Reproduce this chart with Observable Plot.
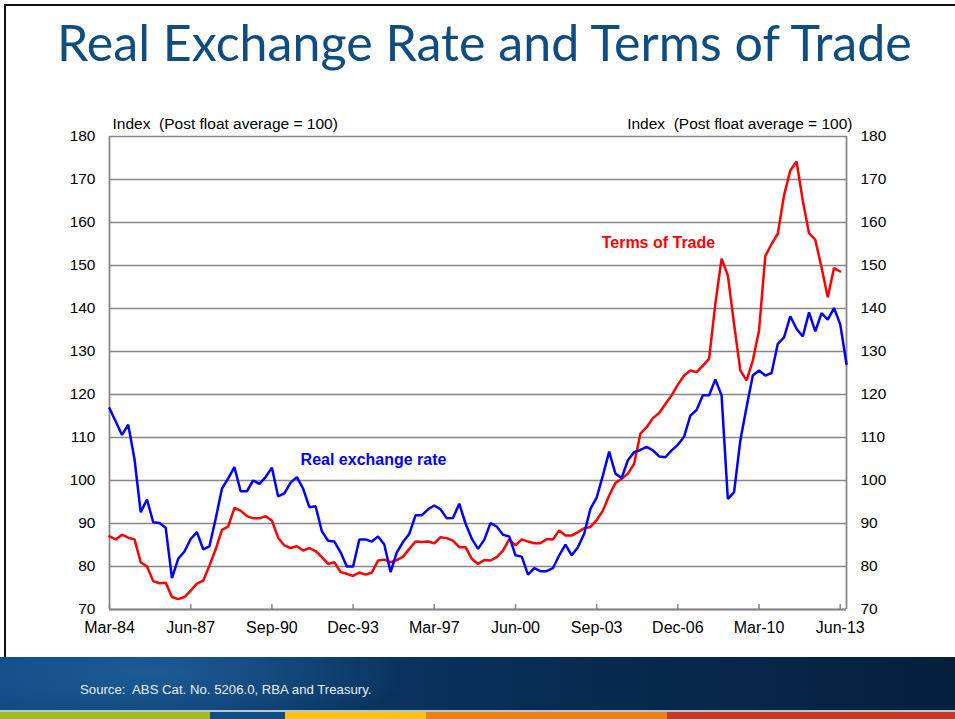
<!DOCTYPE html>
<html>
<head>
<meta charset="utf-8">
<script src="https://cdn.jsdelivr.net/npm/d3@7"></script>
<script src="https://cdn.jsdelivr.net/npm/@observablehq/plot@0.6"></script>
<style>
  html, body { margin: 0; padding: 0; background: #fff; }
  #slide { position: relative; width: 955px; height: 719px; overflow: hidden; background: #fff; }
  #border { position: absolute; left: 4px; top: 4px; width: 960px; height: 660px; border-left: 2px solid #111; border-top: 2px solid #111; }
  #titleSvg { position: absolute; left: 0; top: 0; }
  #chart { position: absolute; left: 0; top: 100px; }
  #band { position: absolute; left: 0; top: 657px; width: 955px; height: 53px;
    background:
      radial-gradient(ellipse 260px 70px at 150px 15px, rgba(45,115,180,0.55), rgba(45,115,180,0) 100%),
      linear-gradient(90deg, #0c467f 0%, #0a3866 30%, #082b52 60%, #06203e 100%); }
  #sep { position: absolute; left: 0; top: 710px; width: 955px; height: 2px; background: #b9c6d3; }
  #stripes { position: absolute; left: 0; top: 712px; width: 955px; height: 7px; display: flex; }
  #source { position: absolute; left: 80px; top: 682px; font-family: "Liberation Sans", Arial, sans-serif; font-size: 13.2px; color: #e6edf5; white-space: pre; }
</style>
</head>
<body>
<div id="slide">
  <div id="border"></div>
  <svg id="titleSvg" width="955" height="100"></svg>
  <div id="chart"></div>
  <div id="band"></div>
  <div id="sep"></div>
  <div id="stripes"></div>
  <div id="source"></div>
</div>
<script>
// ---------- data ----------
const titleText = "Real Exchange Rate and Terms of Trade";
const sourceText = "Source:  ABS Cat. No. 5206.0, RBA and Treasury.";
const axisTitle = "Index\u00a0 (Post float average = 100)";

// quarterly, Mar-84 onwards
const realExchangeRate = [116.8,113.7,110.6,113.0,105.0,92.6,95.6,90.3,90.1,89.0,
  77.3,81.8,83.5,86.4,88.0,84.0,84.7,91.1,98.1,100.5,
  103.1,97.5,97.5,100.0,99.2,100.8,103.0,96.3,97.0,99.5,
  100.8,98.1,93.8,94.0,88.2,86.0,85.8,83.3,80.0,80.0,
  86.3,86.3,85.8,87.0,85.1,78.7,83.3,85.7,87.6,91.9,
  91.9,93.3,94.2,93.3,91.2,91.3,94.6,90.0,86.5,84.1,
  86.2,90.1,89.3,87.4,87.0,82.6,82.3,78.1,79.6,78.9,
  78.9,79.6,82.6,85.1,82.6,84.5,87.6,93.4,96.0,101.2,
  106.7,101.6,100.6,104.7,106.6,107.1,107.8,107.0,105.6,105.4,
  107.0,108.3,110.2,115.1,116.4,119.8,119.8,123.5,119.8,95.7,
  97.3,109.3,117.1,124.4,125.6,124.4,125.0,131.8,133.3,138.2,
  135.3,133.5,139.1,134.7,138.9,137.4,140.1,136.3,127.1];

const termsOfTrade = [87.0,86.3,87.4,86.7,86.3,81.0,80.0,76.6,76.1,76.2,
  72.9,72.4,72.9,74.4,76.0,76.7,80.2,84.0,88.5,89.3,
  93.6,93.0,91.7,91.2,91.2,91.7,90.7,86.7,84.9,84.3,
  84.7,83.7,84.3,83.6,82.2,80.6,81.0,78.7,78.3,77.8,
  78.6,78.1,78.6,81.4,81.6,81.0,81.5,82.3,84.1,85.8,
  85.7,85.8,85.4,86.8,86.6,86.0,84.5,84.5,81.8,80.6,
  81.5,81.4,82.2,83.7,86.3,84.9,86.3,85.8,85.4,85.4,
  86.4,86.3,88.4,87.2,87.2,88.0,88.9,89.2,90.8,93.0,
  96.5,99.4,100.4,101.6,103.9,110.9,112.4,114.5,115.7,117.8,
  119.8,122.3,124.4,125.6,125.2,126.7,128.3,141.1,151.6,147.7,
  136.4,125.6,123.3,127.9,134.9,152.2,155.0,157.4,166.3,172.1,
  174.2,165.1,157.5,156.0,149.6,142.6,149.4,148.6];

const xTickLabels = ["Mar-84","Jun-87","Sep-90","Dec-93","Mar-97","Jun-00","Sep-03","Dec-06","Mar-10","Jun-13"];
const quartersPerTick = 13;
const yTicks = [70,80,90,100,110,120,130,140,150,160,170,180];

const seriesNames = ["Real exchange rate", "Terms of Trade"];
const seriesColors = ["#0000FF", "#FF0000"];
// annotation anchor (quarter index, index value)
const labelQuarter = [30.6, 78.8];
const labelValue = [104.9, 155.3];

const stripeColors = ["#9DBE1E", "#0E4E86", "#FFC20E", "#F0800F", "#C9391F"];
const stripeWidths = [210, 75, 141, 241, 288];

// ---------- build tables ----------
const rer = realExchangeRate.map((v, i) => ({q: i, v}));
const tot = termsOfTrade.map((v, i) => ({q: i, v}));
const xTicks = xTickLabels.map((_, i) => i * quartersPerTick);
const lastQ = realExchangeRate.length - 1;
const labels = seriesNames.map((name, i) => ({name, color: seriesColors[i], q: labelQuarter[i], v: labelValue[i]}));

const gridColor = "#878787";

const chart = Plot.plot({
  width: 955,
  height: 550,
  marginLeft: 109,
  marginRight: 109,
  marginTop: 36,
  marginBottom: 41,
  style: {fontFamily: "'Liberation Sans', Arial, sans-serif", fontSize: "15.5px", color: "#000", background: "transparent", overflow: "visible"},
  x: {domain: [0, lastQ]},
  y: {domain: [yTicks[0], yTicks[yTicks.length - 1]]},
  marks: [
    Plot.gridY(yTicks, {stroke: gridColor, strokeOpacity: 1, strokeWidth: 1.3}),
    Plot.ruleX([0, lastQ], {stroke: gridColor, strokeWidth: 1.8}),
    Plot.ruleY([yTicks[0]], {stroke: gridColor, strokeWidth: 1.8}),
    Plot.tickX(xTicks, {x: d => d, stroke: gridColor, strokeWidth: 1.5, insetTop: 468}),
    Plot.axisY(yTicks, {anchor: "left", tickSize: 0, tickPadding: 14, label: null, fontSize: 15.5}),
    Plot.axisY(yTicks, {anchor: "right", tickSize: 0, tickPadding: 14, label: null, fontSize: 15.5}),
    Plot.axisX(xTicks, {anchor: "bottom", tickSize: 0, tickPadding: 12.6, label: null, fontSize: 16,
      tickFormat: (d) => xTickLabels[Math.round(d / quartersPerTick)]}),
    Plot.text([axisTitle], {text: d => d, frameAnchor: "top-left", textAnchor: "start", lineAnchor: "middle", dx: 3, dy: -12, fontSize: 15.5, fill: "#000"}),
    Plot.text([axisTitle], {text: d => d, frameAnchor: "top-right", textAnchor: "end", lineAnchor: "middle", dx: 6, dy: -12, fontSize: 15.5, fill: "#000"}),
    Plot.lineY(tot, {x: "q", y: "v", stroke: seriesColors[1], strokeWidth: 2.5, strokeLinejoin: "miter"}),
    Plot.lineY(rer, {x: "q", y: "v", stroke: seriesColors[0], strokeWidth: 2.5, strokeLinejoin: "miter"}),
    Plot.text(labels, {x: "q", y: "v", text: "name", fill: "color", textAnchor: "start", fontWeight: "bold", fontSize: 16})
  ]
});
document.getElementById("chart").appendChild(chart);

// ---------- title ----------
const ns = "http://www.w3.org/2000/svg";
const tsvg = document.getElementById("titleSvg");
const t = document.createElementNS(ns, "text");
t.setAttribute("x", 57);
t.setAttribute("y", 61);
t.setAttribute("fill", "#0F4C81");
t.setAttribute("font-family", "Lato, 'Open Sans', sans-serif");
t.setAttribute("font-size", 48);
t.textContent = titleText;
tsvg.appendChild(t);
const w = t.getComputedTextLength();
if (w > 0) t.setAttribute("font-size", (48 * 855 / w).toFixed(2));

// ---------- footer ----------
document.getElementById("source").textContent = sourceText;
const stripes = document.getElementById("stripes");
stripeColors.forEach((c, i) => {
  const d = document.createElement("div");
  d.style.width = stripeWidths[i] + "px";
  d.style.height = "7px";
  d.style.background = c;
  stripes.appendChild(d);
});
</script>
</body>
</html>
